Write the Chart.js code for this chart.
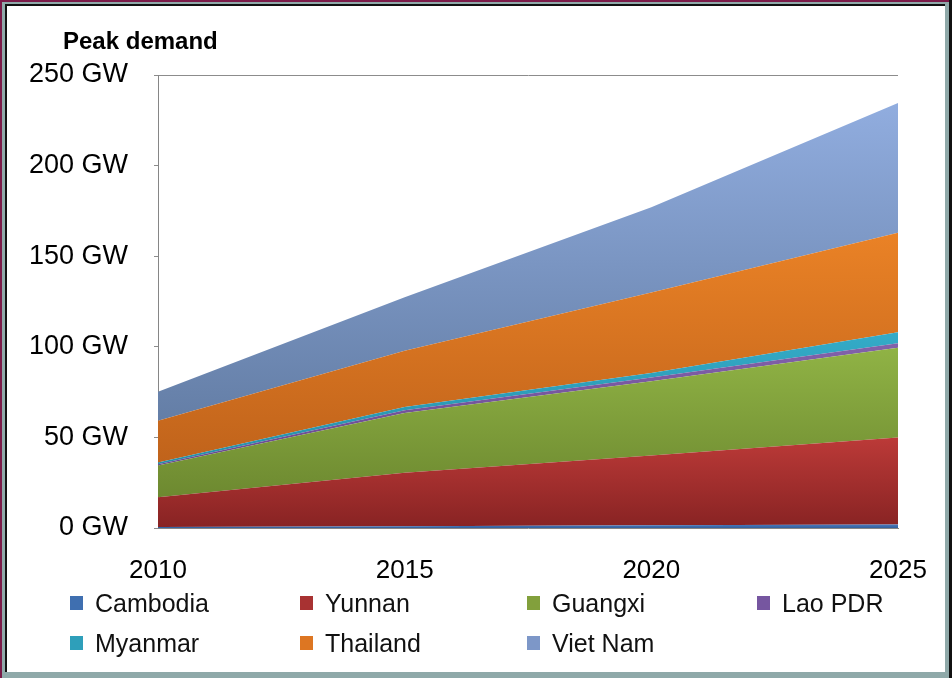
<!DOCTYPE html>
<html>
<head>
<meta charset="utf-8">
<script src="https://cdn.jsdelivr.net/npm/chart.js@4/dist/chart.umd.min.js"></script>
<style>
  body { margin: 0; width: 952px; height: 678px; overflow: hidden; background: #7a1a48; position: relative; font-family: "Liberation Sans", Arial, sans-serif; }
  #outer { position: absolute; left: 2px; top: 2px; right: 0; bottom: 0; background: #8fa9a9; }
  #inner { position: absolute; left: 5px; top: 4px; width: 938px; height: 666px; background: #fff; border-left: 2px solid #111; border-top: 2px solid #111; }
  #rightEdge { position: absolute; left: 949px; top: 0; width: 3px; height: 678px; background: #111; }
  #chartBox { position: absolute; left: 0; top: 0; width: 952px; height: 678px; }
  #title { position: absolute; left: 63px; top: 27px; font-weight: bold; font-size: 24px; color: #000; }
  .legend-item { position: absolute; display: flex; align-items: center; font-size: 25px; color: #111; white-space: nowrap; }
  .legend-item span.box { width: 13px; height: 14px; margin-right: 12px; display: inline-block; }
</style>
</head>
<body>
<div id="outer"></div>
<div id="inner"></div>
<div id="rightEdge"></div>
<div id="chartBox"><canvas id="chart" width="952" height="678"></canvas></div>
<div id="title">Peak demand</div>
<div id="legend"></div>

<script>
// data (GW)
const years = ["2010", "2015", "2020", "2025"];
const seriesNames = ["Cambodia", "Yunnan", "Guangxi", "Lao PDR", "Myanmar", "Thailand", "Viet Nam"];
const cambodia = [0.5, 1, 1.5, 2];
const yunnan = [16.5, 29.5, 38.5, 48];
const guangxi = [17.5, 33, 41, 49.5];
const laoPdr = [0.7, 1.5, 2, 2.5];
const myanmar = [1, 1.8, 2.5, 6];
const thailand = [23, 31, 44.5, 55];
const vietNam = [16, 29.5, 47, 71.5];
const yTicks = [0, 50, 100, 150, 200, 250];

const seriesData = [cambodia, yunnan, guangxi, laoPdr, myanmar, thailand, vietNam];

// light (top) / dark (bottom) colours of each area
const lightColors = ["#4a7cc0", "#bc3a38", "#90b345", "#8262aa", "#34abc8", "#ea8226", "#91addf"];
const darkColors = ["#335f9c", "#882323", "#6d8930", "#684890", "#268fa8", "#c0631b", "#647ea6"];
const legendColors = ["#3f6fb0", "#a83232", "#82a03c", "#7656a0", "#2e9fba", "#dd7622", "#7d97c8"];

// running totals, used for the gradient extents
const cumulative = [];
seriesData.forEach((arr, i) => {
  cumulative.push(arr.map((v, j) => v + (i > 0 ? cumulative[i - 1][j] : 0)));
});

function areaFill(i) {
  return function (context) {
    const chart = context.chart;
    if (!chart.chartArea || !chart.scales.y) {
      return lightColors[i];
    }
    const y = chart.scales.y;
    const top = y.getPixelForValue(Math.max(...cumulative[i]));
    const bottomVal = i > 0 ? Math.min(...cumulative[i - 1]) : 0;
    let bottom = y.getPixelForValue(bottomVal);
    if (bottom - top < 2) bottom = top + 2;
    const g = chart.ctx.createLinearGradient(0, top, 0, bottom);
    g.addColorStop(0, lightColors[i]);
    g.addColorStop(1, darkColors[i]);
    return g;
  };
}

const datasets = seriesData.map((arr, i) => ({
  label: seriesNames[i],
  data: arr,
  fill: i === 0 ? "origin" : "-1",
  backgroundColor: areaFill(i),
  borderWidth: 0,
  pointRadius: 0,
  tension: 0,
}));

new Chart(document.getElementById("chart"), {
  type: "line",
  data: { labels: years, datasets: datasets },
  options: {
    responsive: false,
    animation: false,
    layout: { padding: { left: 0, top: 75, right: 54, bottom: 70 } },
    plugins: {
      legend: { display: false },
      tooltip: { enabled: false },
    },
    scales: {
      x: {
        offset: false,
        grid: { display: false },
        border: { color: "#868686", width: 1 },
        ticks: {
          padding: 19,
          color: "#000",
          maxRotation: 0,
          font: { family: "Liberation Sans", size: 26 },
        },
        afterFit: (scale) => { scale.height = 80; },
      },
      y: {
        stacked: true,
        min: 0,
        max: 250,
        afterBuildTicks: (scale) => { scale.ticks = yTicks.map((v) => ({ value: v })); },
        grid: {
          color: (ctx) => (ctx.tick && ctx.tick.value === 250 ? "#8c8c8c" : "rgba(0,0,0,0)"),
          tickColor: "#8c8c8c",
          tickLength: 4,
        },
        border: { color: "#868686", width: 1 },
        ticks: {
          padding: 26,
          color: "#000",
          font: { family: "Liberation Sans", size: 27 },
          callback: (v) => v + " GW",
        },
        afterFit: (scale) => { scale.width = 158; },
      },
    },
  },
});

// legend, 4 columns x 2 rows
const legendCols = [70, 300, 527, 757];
const legendRows = [603, 643];
const legend = document.getElementById("legend");
seriesNames.forEach((name, i) => {
  const item = document.createElement("div");
  item.className = "legend-item";
  item.style.left = legendCols[i % 4] + "px";
  item.style.top = (legendRows[Math.floor(i / 4)] - 15) + "px";
  item.style.height = "30px";
  const box = document.createElement("span");
  box.className = "box";
  box.style.background = legendColors[i];
  item.append(box, document.createTextNode(name));
  legend.append(item);
});
</script>
</body>
</html>
